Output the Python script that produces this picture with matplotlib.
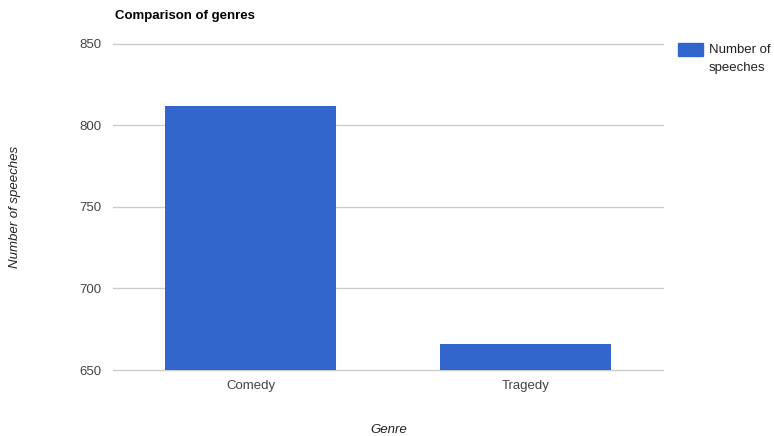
import matplotlib.pyplot as plt
from matplotlib.patches import Rectangle

# data
genres = ["Comedy", "Tragedy"]
speeches = [812, 666]
y_ticks = [650, 700, 750, 800, 850]

BAR_COLOR = "#3366cc"
GRID_COLOR = "#cccccc"
TEXT_COLOR = "#444444"

plt.rcParams["font.family"] = ["Arial", "Liberation Sans", "DejaVu Sans"]

fig = plt.figure(figsize=(7.74, 4.36), dpi=100)
ax = fig.add_axes([113 / 774, 66 / 436, 550 / 774, 326.5 / 436])

x = list(range(len(genres)))
ax.bar(x, speeches, width=0.62, color=BAR_COLOR, zorder=3)

ax.set_xlim(-0.5, len(genres) - 0.5)
ax.set_ylim(650, 850)
ax.set_yticks(y_ticks)
ax.set_xticks(x)
ax.set_xticklabels(genres)
# gridlines drawn by hand so the bottom one is not clipped
for t in y_ticks:
    ax.axhline(t, color=GRID_COLOR, linewidth=1, zorder=1, clip_on=False)
for s in ax.spines.values():
    s.set_visible(False)
ax.tick_params(length=0, labelsize=9.5, colors=TEXT_COLOR)
ax.tick_params(axis="y", pad=8)
ax.tick_params(axis="x", pad=7)

fig.text(115 / 774, 1 - 16 / 436, "Comparison of genres", fontsize=9.5,
         fontweight="bold", color="black", va="center", ha="left")
fig.text(15 / 774, 1 - 207 / 436, "Number of speeches", rotation=90,
         fontsize=9.5, style="italic", color="#222222", va="center", ha="center")
fig.text(389 / 774, 1 - 430 / 436, "Genre", fontsize=9.5, style="italic",
         color="#222222", va="center", ha="center")

# legend
fig.patches.append(Rectangle((678 / 774, 1 - 56 / 436), 25 / 774, 13 / 436,
                             transform=fig.transFigure, color=BAR_COLOR))
fig.text(709 / 774, 1 - 50 / 436, "Number of", fontsize=9.5, color="#222222",
         va="center", ha="left")
fig.text(709 / 774, 1 - 68 / 436, "speeches", fontsize=9.5, color="#222222",
         va="center", ha="left")

plt.savefig("out.png", dpi=100)
